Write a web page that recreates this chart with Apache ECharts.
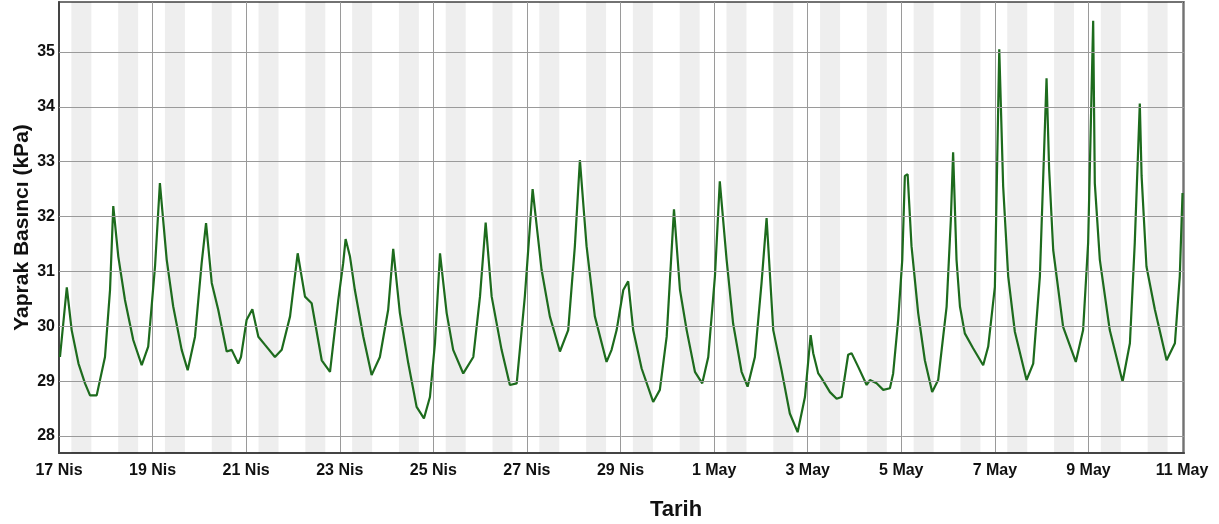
<!DOCTYPE html>
<html>
<head>
<meta charset="utf-8">
<script src="https://cdn.jsdelivr.net/npm/echarts@6/dist/echarts.min.js"></script>
<style>
  html, body { margin: 0; padding: 0; background: #fff; }
  #chart { width: 1219px; height: 524px; }
</style>
</head>
<body>
<div id="chart"></div>
<script>
// 2013 used as year (only day/month shown)
const times = [
  '04-17 00:30','04-17 04:00','04-17 06:30','04-17 10:00','04-17 13:20','04-17 15:55','04-17 19:20','04-17 23:35',
  '04-18 02:10','04-18 03:50','04-18 06:25','04-18 09:50','04-18 14:05','04-18 18:25','04-18 21:45',
  '04-19 01:15','04-19 03:45','04-19 07:15','04-19 10:35','04-19 14:55','04-19 18:00','04-19 21:45',
  '04-20 01:10','04-20 03:25','04-20 06:20','04-20 09:40','04-20 14:00','04-20 16:35','04-20 19:55','04-20 21:20',
  '04-21 00:15','04-21 03:10','04-21 06:15','04-21 09:40','04-21 14:45','04-21 18:15','04-21 22:30',
  '04-22 02:25','04-22 06:10','04-22 09:35','04-22 14:45','04-22 19:00','04-22 23:15',
  '04-23 01:45','04-23 03:00','04-23 05:15','04-23 07:45','04-23 12:05','04-23 16:20','04-23 20:35',
  '04-24 00:50','04-24 03:25','04-24 06:50','04-24 11:10','04-24 15:25','04-24 19:10','04-24 22:15',
  '04-25 00:50','04-25 03:25','04-25 06:50','04-25 10:10','04-25 15:20','04-25 20:30','04-25 23:55',
  '04-26 02:50','04-26 05:55','04-26 11:00','04-26 15:15','04-26 18:45','04-26 22:55',
  '04-27 02:55','04-27 07:30','04-27 11:45','04-27 16:55','04-27 21:10',
  '04-28 00:35','04-28 03:10','04-28 06:35','04-28 10:50','04-28 16:50','04-28 19:25','04-28 22:00',
  '04-29 01:25','04-29 03:55','04-29 06:30','04-29 10:50','04-29 16:45','04-29 20:10','04-29 23:40',
  '04-30 03:25','04-30 06:30','04-30 09:55','04-30 14:10','04-30 17:55','04-30 21:00',
  '05-01 00:25','05-01 02:55','05-01 06:25','05-01 09:45','05-01 14:05','05-01 17:10','05-01 20:55',
  '05-02 00:20','05-02 02:55','05-02 06:20','05-02 10:35','05-02 14:50','05-02 18:50','05-02 22:35',
  '05-03 01:30','05-03 02:50','05-03 05:25','05-03 07:10','05-03 11:25','05-03 14:50','05-03 17:25','05-03 20:45','05-03 22:30',
  '05-04 01:55','05-04 06:15','05-04 07:55','05-04 11:20','05-04 14:45','05-04 18:10','05-04 19:50','05-04 22:25',
  '05-05 00:30','05-05 01:50','05-05 03:15','05-05 05:15','05-05 08:40','05-05 12:05','05-05 15:50','05-05 18:55','05-05 23:15',
  '05-06 01:25','05-06 02:35','05-06 04:20','05-06 06:05','05-06 08:35','05-06 12:50','05-06 18:00','05-06 20:35',
  '05-07 00:00','05-07 02:15','05-07 04:15','05-07 06:50','05-07 10:15','05-07 16:15','05-07 19:40','05-07 23:05',
  '05-08 02:30','05-08 03:50','05-08 05:55','05-08 11:00','05-08 17:30','05-08 21:15','05-08 23:50',
  '05-09 02:25','05-09 03:15','05-09 05:50','05-09 10:55','05-09 17:30','05-09 21:15','05-09 23:45',
  '05-10 02:20','05-10 03:15','05-10 05:45','05-10 10:05','05-10 16:05','05-10 20:20','05-10 22:50',
  '05-11 00:15'
];
const pressure = [
  29.44, 30.71, 29.93, 29.32, 28.96, 28.74, 28.74, 29.44,
  30.66, 32.19, 31.27, 30.48, 29.75, 29.29, 29.63,
  31.09, 32.61, 31.21, 30.36, 29.57, 29.20, 29.81,
  31.15, 31.88, 30.79, 30.30, 29.54, 29.57, 29.32, 29.44,
  30.12, 30.31, 29.81, 29.66, 29.44, 29.57, 30.18,
  31.33, 30.54, 30.42, 29.38, 29.17, 30.48,
  31.15, 31.59, 31.27, 30.66, 29.81, 29.11, 29.44,
  30.30, 31.41, 30.24, 29.32, 28.53, 28.32, 28.71,
  29.69, 31.33, 30.24, 29.57, 29.14, 29.44, 30.54,
  31.89, 30.54, 29.57, 28.93, 28.96, 30.54,
  32.50, 31.03, 30.18, 29.54, 29.93,
  31.46, 33.03, 31.46, 30.18, 29.35, 29.57, 29.93,
  30.66, 30.82, 29.93, 29.23, 28.62, 28.84, 29.81,
  32.13, 30.66, 29.93, 29.17, 28.96, 29.44,
  30.91, 32.64, 31.21, 30.05, 29.17, 28.90, 29.44,
  30.79, 31.97, 29.93, 29.20, 28.41, 28.07, 28.71,
  29.84, 29.51, 29.14, 29.05, 28.80, 28.68, 28.71, 29.48, 29.51,
  29.26, 28.93, 29.02, 28.96, 28.84, 28.87, 29.14, 30.12,
  31.21, 32.74, 32.77, 31.46, 30.24, 29.38, 28.80, 29.02, 30.36,
  31.94, 33.17, 31.21, 30.36, 29.87, 29.60, 29.29, 29.63,
  30.72, 35.05, 32.55, 30.91, 29.90, 29.02, 29.32, 30.91,
  34.52, 32.86, 31.39, 29.99, 29.35, 29.93, 31.52,
  35.57, 32.61, 31.21, 29.93, 28.99, 29.69, 31.52,
  34.06, 32.74, 31.09, 30.30, 29.38, 29.69, 30.91,
  32.43
];
const yTicks = [28, 29, 30, 31, 32, 33, 34, 35];
// gray shaded part of each day (hours)
const shadeFrom = 6.33;
const shadeTo = 16.6;
const monthNames = ['Oca', 'Şub', 'Mar', 'Nis', 'May', 'Haz'];

const YEAR = 2013;
const HOUR = 3600 * 1000;
const DAY = 24 * HOUR;

function parseTime(s) {
  const m = +s.slice(0, 2), d = +s.slice(3, 5);
  const hh = +s.slice(6, 8), mm = +s.slice(9, 11);
  return Date.UTC(YEAR, m - 1, d, hh, mm);
}

const xMin = Date.UTC(YEAR, 3, 17);
const xMax = Date.UTC(YEAR, 4, 11, 1);

const seriesData = times.map((t, i) => [parseTime(t), pressure[i]]);

const bands = [];
for (let t = xMin; t < xMax; t += DAY) {
  bands.push([{xAxis: t + shadeFrom * HOUR}, {xAxis: t + shadeTo * HOUR}]);
}

const font = 'Liberation Sans, Arial, sans-serif';
const chart = echarts.init(document.getElementById('chart'));

chart.setOption({
  animation: false,
  backgroundColor: '#fff',
  title: {
    text: 'Tarih',
    left: 671,
    top: 494,
    textAlign: 'center',
    textStyle: {fontFamily: font, fontSize: 22, fontWeight: 'bold', color: '#111'}
  },
  grid: {
    left: 59,
    right: 35,
    top: 2,
    bottom: 71,
    outerBoundsMode: 'none',
    show: true,
    borderColor: '#444',
    borderWidth: 1.5
  },
  xAxis: {
    type: 'value',
    min: xMin,
    max: xMax,
    interval: 2 * DAY,
    axisLine: {lineStyle: {color: '#444', width: 2}},
    axisTick: {show: false},
    axisLabel: {
      margin: 10,
      fontFamily: font,
      fontSize: 16,
      fontWeight: 'bold',
      color: '#111',
      formatter: (v) => {
        const d = new Date(v);
        if (d.getUTCHours() !== 0 || d.getUTCMinutes() !== 0) return '';
        return d.getUTCDate() + ' ' + monthNames[d.getUTCMonth()];
      }
    },
    splitLine: {show: true, lineStyle: {color: '#9a9a9a', width: 1}}
  },
  yAxis: {
    type: 'value',
    min: 27.69,
    max: 35.91,
    name: 'Yaprak Basıncı (kPa)',
    nameLocation: 'middle',
    nameGap: 26,
    nameMoveOverlap: false,
    nameTextStyle: {fontFamily: font, fontSize: 21, fontWeight: 'bold', color: '#111'},
    axisLine: {show: true, lineStyle: {color: '#444', width: 2}},
    axisTick: {show: false},
    axisLabel: {
      margin: 4,
      customValues: yTicks,
      fontFamily: font,
      fontSize: 16,
      fontWeight: 'bold',
      color: '#111'
    },
    splitLine: {show: false}
  },
  series: [{
    type: 'line',
    data: seriesData,
    showSymbol: false,
    lineStyle: {color: '#1d6b1d', width: 2.2},
    markArea: {
      silent: true,
      itemStyle: {color: 'rgba(0,0,0,0.065)'},
      data: bands
    },
    markLine: {
      silent: true,
      symbol: 'none',
      label: {show: false},
      lineStyle: {color: '#9a9a9a', width: 1, type: 'solid'},
      data: yTicks.map(v => ({yAxis: v}))
    }
  }]
});
</script>
</body>
</html>
